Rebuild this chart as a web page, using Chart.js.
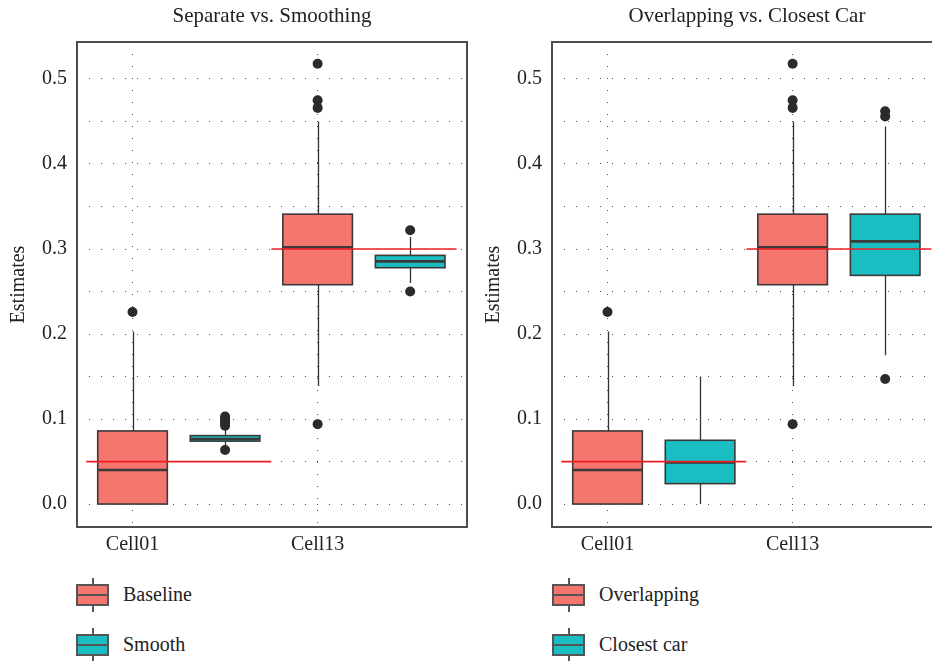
<!DOCTYPE html>
<html>
<head>
<meta charset="utf-8">
<title>Estimates by cell</title>
<script src="https://cdn.jsdelivr.net/npm/chart.js@4.4.1/dist/chart.umd.min.js"></script>
<style>
  html, body { margin: 0; padding: 0; background: #fff; }
  #page { position: relative; width: 932px; height: 661px; overflow: hidden; background: #fff;
          font-family: 'Liberation Serif', 'Times New Roman', serif; color: #222; }
  #page canvas { position: absolute; top: 0; }
  .legend { position: absolute; top: 0; width: 300px; }
  .item { position: absolute; left: 0; height: 34px; width: 300px; }
  .key { position: absolute; left: 0; top: 0; width: 33px; height: 34px; }
  .key .whisk { position: absolute; left: 16px; top: 0; width: 1.5px; height: 34px; background: #555; }
  .key .box { position: absolute; left: 0; top: 6px; width: 29px; height: 18px; border: 2px solid #555; }
  .key .med { position: absolute; left: 0; top: 8px; width: 29px; height: 2px; background: #555; }
  .item span { position: absolute; left: 47px; top: 4px; font-size: 20px; line-height: 24px; white-space: nowrap; }
</style>
</head>
<body>
<div id="page">
  <canvas id="left" width="472" height="560" style="left:0px"></canvas>
  <canvas id="right" width="472" height="560" style="left:475px"></canvas>
  <div class="legend" id="legendLeft" style="left:76px"></div>
  <div class="legend" id="legendRight" style="left:552px"></div>
</div>
<script>
// Categories on the x axis and the y tick values (gridlines every 0.05, labels every 0.1)
const categories = ['Cell01', 'Cell13'];
const yTickValues = [0, 0.05, 0.1, 0.15, 0.2, 0.25, 0.3, 0.35, 0.4, 0.45, 0.5];

// Box summaries per category: [lower whisker, Q1, median, Q3, upper whisker]
const baselineBox    = [[0.000, 0.000, 0.040, 0.086, 0.203], [0.139, 0.258, 0.302, 0.341, 0.450]];
const baselineOut    = [[0.226], [0.094, 0.466, 0.475, 0.518]];
const smoothBox      = [[0.068, 0.074, 0.0765, 0.0805, 0.087], [0.260, 0.278, 0.2855, 0.2925, 0.314]];
const smoothOut      = [[0.0635, 0.092, 0.095, 0.098, 0.101, 0.103], [0.250, 0.322]];
const overlappingBox = [[0.000, 0.000, 0.040, 0.086, 0.203], [0.139, 0.258, 0.302, 0.341, 0.450]];
const overlappingOut = [[0.226], [0.094, 0.466, 0.475, 0.518]];
const closestBox     = [[0.000, 0.024, 0.049, 0.075, 0.150], [0.175, 0.269, 0.309, 0.341, 0.444]];
const closestOut     = [[], [0.147, 0.456, 0.462]];

// True parameter value for each cell (red reference lines)
const trueValues = [0.05, 0.30];

const RED_FILL = '#F4766E';
const TEAL_FILL = '#1ABDC2';
const INK = '#333333';
const seriesOffset = [0, 0.5];   // dodge of the second series within a category
const boxHalf = 0.188;           // half box width, in x units

Chart.defaults.font.family = "'Liberation Serif', 'Times New Roman', serif";
Chart.defaults.font.size = 20;
Chart.defaults.color = '#222';

function buildChart(canvasId, titleText, series) {
  const datasets = [];
  // red reference segments, one per category
  trueValues.forEach((v, ci) => {
    datasets.push({
      label: 'true-' + ci,
      data: [{ x: ci + 0.75, y: v }, { x: ci + 1.75, y: v }],
      showLine: true, borderColor: '#EE1D23', borderWidth: 1.7,
      pointRadius: 0, fill: false
    });
  });
  // outlying observations
  series.forEach((s, si) => {
    const pts = [];
    s.out.forEach((vals, ci) => vals.forEach(v => pts.push({ x: ci + 1 + seriesOffset[si], y: v })));
    datasets.push({
      label: s.label, data: pts,
      pointRadius: 5, pointBackgroundColor: '#2b2b2b', pointBorderWidth: 0,
      borderColor: '#2b2b2b', backgroundColor: '#2b2b2b'
    });
  });

  const boxPlugin = {
    id: 'boxes-' + canvasId,
    beforeDatasetsDraw(chart) {
      const { ctx, scales: { x, y } } = chart;
      ctx.save();
      series.forEach((s, si) => {
        s.box.forEach((st, ci) => {
          const pos = ci + 1 + seriesOffset[si];
          const xc = Math.round(x.getPixelForValue(pos)) + 0.5;
          const xl = x.getPixelForValue(pos - boxHalf);
          const xr = x.getPixelForValue(pos + boxHalf);
          const [lo, q1, med, q3, hi] = st.map(v => y.getPixelForValue(v));
          ctx.strokeStyle = INK;
          ctx.lineWidth = 1.3;
          ctx.beginPath();
          ctx.moveTo(xc, lo); ctx.lineTo(xc, q1);
          ctx.moveTo(xc, q3); ctx.lineTo(xc, hi);
          ctx.stroke();
          ctx.fillStyle = s.color;
          ctx.fillRect(xl, q3, xr - xl, q1 - q3);
          ctx.lineWidth = 1.6;
          ctx.strokeStyle = '#3a3a3a';
          ctx.strokeRect(xl, q3, xr - xl, q1 - q3);
          ctx.lineWidth = 2.6;
          ctx.beginPath(); ctx.moveTo(xl, med); ctx.lineTo(xr, med); ctx.stroke();
        });
      });
      ctx.restore();
    },
    afterDatasetsDraw(chart) {
      const { ctx, chartArea: a } = chart;
      ctx.save();
      ctx.strokeStyle = '#4d4d4d';
      ctx.lineWidth = 2;
      ctx.strokeRect(a.left, a.top, a.right - a.left, a.bottom - a.top);
      ctx.fillStyle = '#222';
      ctx.font = "21px 'Liberation Serif', 'Times New Roman', serif";
      ctx.textAlign = 'center';
      ctx.textBaseline = 'alphabetic';
      ctx.fillText(titleText, (a.left + a.right) / 2, 22);
      ctx.restore();
    }
  };

  return new Chart(document.getElementById(canvasId), {
    type: 'scatter',
    data: { datasets },
    options: {
      responsive: false,
      animation: false,
      events: [],
      layout: { padding: { top: 42, right: 3, left: 0, bottom: 0 } },
      plugins: { legend: { display: false }, tooltip: { enabled: false }, title: { display: false } },
      scales: {
        x: {
          type: 'linear', min: 0.7, max: 2.807,
          afterBuildTicks: (scale) => { scale.ticks = categories.map((c, i) => ({ value: i + 1 })); },
          afterFit: (scale) => { scale.height = 33; },
          ticks: { autoSkip: false, maxRotation: 0, padding: 6, color: '#222',
                   callback: (v) => categories[Math.round(v) - 1] },
          grid: { color: '#555', lineWidth: 1, drawTicks: false },
          border: { display: false, dash: [1, 11] }
        },
        y: {
          type: 'linear', min: -0.027, max: 0.5435,
          afterBuildTicks: (scale) => { scale.ticks = yTickValues.map(v => ({ value: v })); },
          afterFit: (scale) => { scale.width = 77; },
          ticks: { padding: 10, color: '#222',
                   callback: (v) => (Math.round(v * 100) % 10 === 0 ? v.toFixed(1) : '') },
          grid: { color: '#555', lineWidth: 1, drawTicks: false },
          border: { display: false, dash: [1, 11] },
          title: { display: true, text: 'Estimates', color: '#222', padding: { top: 7, bottom: 0 } }
        }
      }
    },
    plugins: [boxPlugin]
  });
}

function buildLegend(elId, series) {
  const el = document.getElementById(elId);
  const tops = [578, 628];
  series.forEach((s, i) => {
    const item = document.createElement('div');
    item.className = 'item';
    item.style.top = tops[i] + 'px';
    item.innerHTML = '<div class="key"><div class="whisk"></div><div class="box" style="background:' + s.color +
      '"><div class="med"></div></div></div><span>' + s.label + '</span>';
    el.appendChild(item);
  });
}

const leftSeries = [
  { label: 'Baseline', color: RED_FILL, box: baselineBox, out: baselineOut },
  { label: 'Smooth', color: TEAL_FILL, box: smoothBox, out: smoothOut }
];
const rightSeries = [
  { label: 'Overlapping', color: RED_FILL, box: overlappingBox, out: overlappingOut },
  { label: 'Closest car', color: TEAL_FILL, box: closestBox, out: closestOut }
];

buildChart('left', 'Separate vs. Smoothing', leftSeries);
buildChart('right', 'Overlapping vs. Closest Car', rightSeries);
buildLegend('legendLeft', leftSeries);
buildLegend('legendRight', rightSeries);
</script>
</body>
</html>
